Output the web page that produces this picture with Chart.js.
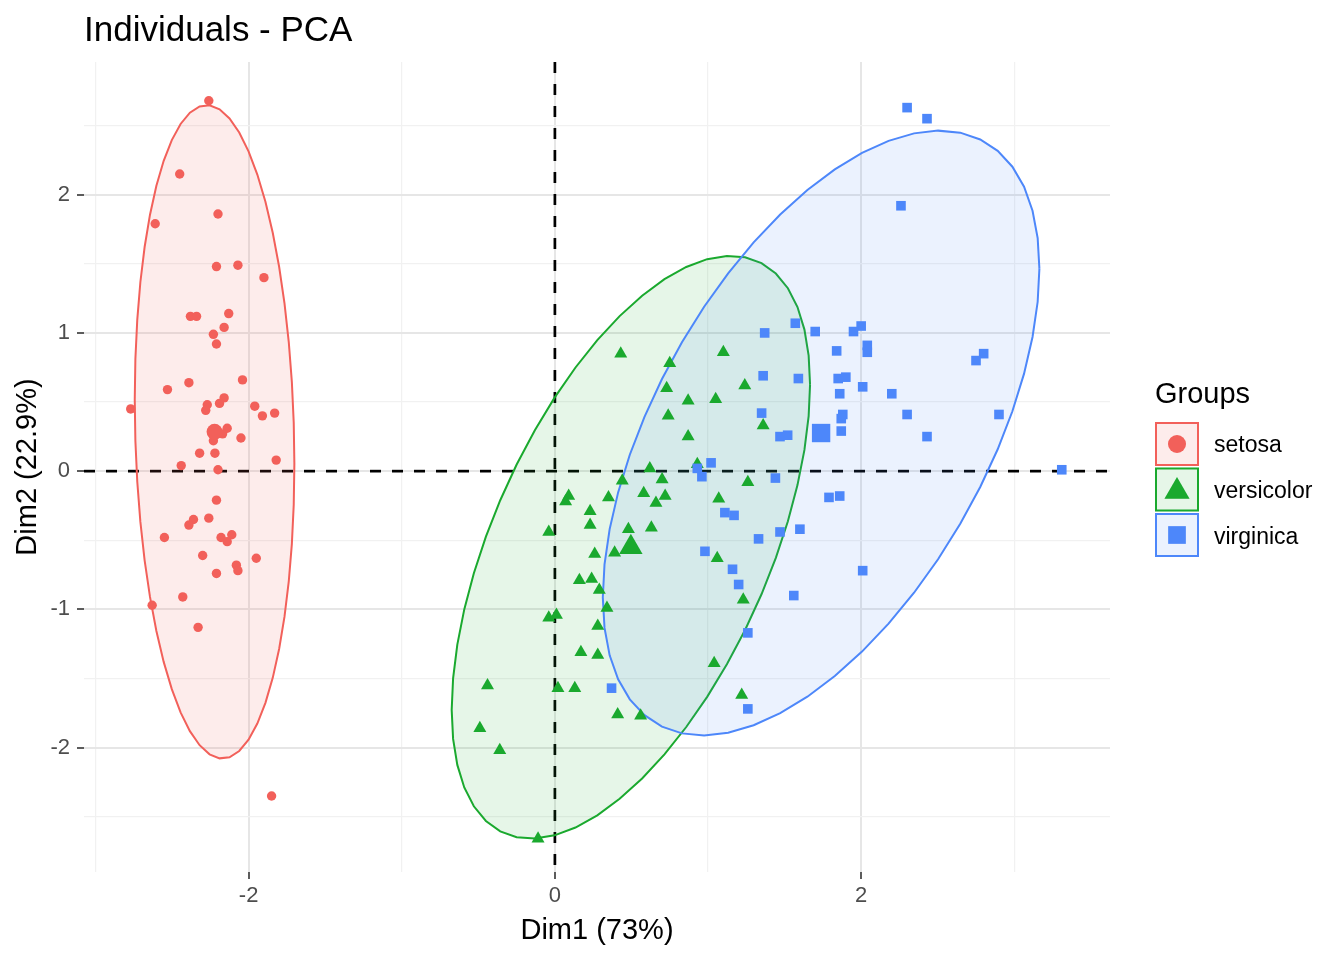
<!DOCTYPE html>
<html>
<head>
<meta charset="utf-8">
<title>Individuals - PCA</title>
<script src="https://cdn.jsdelivr.net/npm/chart.js@4.4.1/dist/chart.umd.min.js"></script>
<style>
    html, body { margin: 0; padding: 0; background: #ffffff; }
    #wrap { width: 1344px; height: 960px; position: relative; }
</style>
</head>
<body>
<div id="wrap"><canvas id="pcaChart"></canvas></div>
<script>
// Scores (Dim1 / Dim2)
const groupNames = ['setosa', 'versicolor', 'virginica'];

const setosaDim1 = [-2.26, -2.45, -2.61, -2.20, -2.21, -2.07, -1.90, -2.38, -2.34, -2.13,
    -2.16, -2.23, -2.21, -2.53, -2.39, -2.04, -2.77, -2.27, -2.28, -2.16,
    -2.19, -1.96, -1.91, -1.83, -2.14, -2.17, -2.23, -2.05, -2.32, -2.22,
    -2.44, -1.82, -2.20, -2.21, -2.36, -2.39, -2.26, -2.55, -2.18, -2.11,
    -2.14, -2.30, -1.95, -2.08, -2.07, -2.21, -2.43, -2.63, -2.33, -1.85];
const setosaDim2 = [2.68, 2.15, 1.79, 1.86, 1.48, 1.49, 1.40, 1.12, 1.12, 1.14,
    1.04, 0.99, 0.92, 0.59, 0.64, 0.66, 0.45, 0.48, 0.44, 0.53,
    0.49, 0.47, 0.40, 0.42, 0.31, 0.27, 0.22, 0.24, 0.13, 0.13,
    0.04, 0.08, 0.01, -0.21, -0.35, -0.39, -0.34, -0.48, -0.48, -0.46,
    -0.51, -0.61, -0.63, -0.68, -0.72, -0.74, -0.91, -0.97, -1.13, -2.35];

const versicolorDim1 = [0.43, 0.62, 0.44, 0.58, 0.09, 0.07, 0.35, 0.66, 0.23, 0.23,
    0.48, 0.63, -0.04, 0.26, 0.39, 0.16, 0.24, 0.29, 0.34, -0.04,
    0.01, 0.28, 0.17, 0.28, -0.44, 0.02, 0.13, 0.41, 0.56, -0.49,
    -0.36, -0.11, 1.10, 0.75, 0.73, 1.24, 0.87, 1.05, 0.74, 1.36,
    0.87, 0.93, 0.70, 1.26, 0.72, 1.07, 1.06, 1.23, 1.04, 1.22];
const versicolorDim2 = [0.85, 0.02, -0.07, -0.16, -0.18, -0.22, -0.19, -0.23, -0.29, -0.39,
    -0.42, -0.41, -0.44, -0.60, -0.59, -0.79, -0.78, -0.86, -0.99, -1.06,
    -1.04, -1.12, -1.31, -1.33, -1.55, -1.57, -1.57, -1.76, -1.77, -1.86,
    -2.02, -2.66, 0.86, 0.78, 0.60, 0.62, 0.51, 0.52, 0.40, 0.33,
    0.25, 0.05, -0.06, -0.08, -0.18, -0.20, -0.63, -0.93, -1.39, -1.62];

const virginicaDim1 = [1.37, 1.36, 1.59, 1.35, 1.47, 1.52, 1.02, 0.93, 0.96, 1.44,
    1.11, 1.17, 1.47, 1.60, 1.33, 0.98, 1.16, 1.20, 1.56, 1.26,
    1.26, 0.37, 1.57, 1.70, 2.00, 1.95, 1.84, 2.04, 2.04, 1.85,
    1.90, 2.01, 1.86, 2.20, 2.30, 1.88, 1.87, 1.87, 1.79, 1.86,
    2.30, 2.43, 2.26, 2.80, 2.75, 2.90, 2.43, 3.31, 2.01, 1.72];
const virginicaDim2 = [1.00, 0.69, 0.67, 0.42, 0.25, 0.26, 0.06, 0.02, -0.04, -0.05,
    -0.30, -0.32, -0.44, -0.42, -0.49, -0.58, -0.71, -0.82, -0.90, -1.17,
    -1.72, -1.57, 1.07, 1.01, 1.05, 1.01, 0.87, 0.91, 0.86, 0.67,
    0.68, 0.61, 0.56, 0.56, 0.41, 0.41, 0.38, 0.29, -0.19, -0.18,
    2.63, 2.55, 1.92, 0.85, 0.80, 0.41, 0.25, 0.01, -0.72, 0.27];

const xTickLabels = [-2, 0, 2];
const yTickLabels = [-2, -1, 0, 1, 2];

const groupColors = ['#F2605A', '#1AA92E', '#4D87FA'];
const groupFills = ['rgba(242, 96, 90, 0.12)', 'rgba(26, 169, 46, 0.11)', 'rgba(77, 135, 250, 0.11)'];
const pointStyles = ['circle', 'triangle', 'rect'];
const pointSizes = [4.7, 7.5, 6.8];
const meanSizes = [8, 13.5, 13];

Chart.defaults.font.family = "'Liberation Sans', Arial, Helvetica, sans-serif";
Chart.defaults.color = '#000000';

function toPoints(xs, ys) {
    return xs.map((x, i) => ({ x: x, y: ys[i] }));
}

function average(v) {
    return v.reduce((s, a) => s + a, 0) / v.length;
}

// Normal-theory 95% ellipse, same construction as ggplot's stat_ellipse(type = "norm")
function normEllipse(xs, ys, level) {
    const n = xs.length;
    const mx = average(xs), my = average(ys);
    let sxx = 0, syy = 0, sxy = 0;
    for (let i = 0; i < n; i++) {
        const dx = xs[i] - mx, dy = ys[i] - my;
        sxx += dx * dx; syy += dy * dy; sxy += dx * dy;
    }
    sxx /= (n - 1); syy /= (n - 1); sxy /= (n - 1);
    const a = Math.sqrt(sxx);
    const b = sxy / a;
    const c = Math.sqrt(syy - b * b);
    const dfd = n - 1;
    const fq = (dfd / 2) * (Math.pow(1 - level, -2 / dfd) - 1); // qf(level, 2, dfd)
    const r = Math.sqrt(2 * fq);
    const pts = [];
    for (let i = 0; i <= 50; i++) {
        const t = 2 * Math.PI * i / 50;
        const u = Math.cos(t), w = Math.sin(t);
        pts.push({ x: mx + r * u * a, y: my + r * (u * b + w * c) });
    }
    return pts;
}

const dims = [
    [setosaDim1, setosaDim2],
    [versicolorDim1, versicolorDim2],
    [virginicaDim1, virginicaDim2]
];

const datasets = [];

// ellipses (drawn first)
dims.forEach((d, g) => {
    datasets.push({
        type: 'line',
        label: groupNames[g] + ' ellipse',
        data: normEllipse(d[0], d[1], 0.95),
        borderColor: groupColors[g],
        backgroundColor: groupFills[g],
        borderWidth: 2,
        fill: 'shape',
        tension: 0,
        pointRadius: 0,
        order: 6 - g
    });
});

// individuals
dims.forEach((d, g) => {
    datasets.push({
        type: 'scatter',
        label: groupNames[g],
        data: toPoints(d[0], d[1]),
        pointStyle: pointStyles[g],
        pointRadius: pointSizes[g],
        backgroundColor: groupColors[g],
        borderWidth: 0,
        order: 3 - g
    });
});

// group centres
dims.forEach((d, g) => {
    datasets.push({
        type: 'scatter',
        label: groupNames[g] + ' mean',
        data: [{ x: average(d[0]), y: average(d[1]) }],
        pointStyle: pointStyles[g],
        pointRadius: meanSizes[g],
        backgroundColor: groupColors[g],
        borderWidth: 0,
        order: 0
    });
});

function isMajor(v, list) {
    return list.some(t => Math.abs(t - v) < 1e-9);
}

const zeroLines = {
    id: 'zeroLines',
    beforeDatasetsDraw(chart) {
        const { ctx, chartArea: a, scales } = chart;
        const px = scales.x.getPixelForValue(0);
        const py = scales.y.getPixelForValue(0);
        ctx.save();
        ctx.beginPath();
        ctx.rect(a.left, a.top, a.width, a.height);
        ctx.clip();
        ctx.strokeStyle = '#000000';
        ctx.lineWidth = 2.7;
        ctx.setLineDash([11, 11]);
        ctx.beginPath();
        ctx.moveTo(px, a.top);
        ctx.lineTo(px, a.bottom);
        ctx.stroke();
        ctx.beginPath();
        ctx.moveTo(a.left, py);
        ctx.lineTo(a.right, py);
        ctx.stroke();
        ctx.restore();
    }
};

const titleAndLegend = {
    id: 'titleAndLegend',
    afterDraw(chart) {
        const ctx = chart.ctx;
        const left = chart.chartArea.left;
        ctx.save();
        ctx.fillStyle = '#000000';
        ctx.textAlign = 'left';
        ctx.textBaseline = 'alphabetic';
        ctx.font = "35px 'Liberation Sans', Arial, sans-serif";
        ctx.fillText('Individuals - PCA', left, 41);

        // legend
        ctx.font = "29px 'Liberation Sans', Arial, sans-serif";
        ctx.fillText('Groups', 1155, 403);
        const keySizes = [9, 14.5, 12.5];
        groupNames.forEach((name, g) => {
            const top = 422 + g * 45.5;
            ctx.fillStyle = '#ffffff';
            ctx.fillRect(1155, top, 44, 44);
            ctx.fillStyle = groupFills[g];
            ctx.fillRect(1155, top, 44, 44);
            ctx.strokeStyle = groupColors[g];
            ctx.lineWidth = 2;
            ctx.setLineDash([]);
            ctx.strokeRect(1156, top + 1, 42, 42);
            Chart.helpers.drawPoint(ctx, {
                pointStyle: pointStyles[g],
                radius: keySizes[g],
                rotation: 0,
                borderWidth: 0
            }, 1177, top + 22 + (g === 1 ? 2 : 0));
            ctx.fillStyle = groupColors[g];
            ctx.fill();
            ctx.fillStyle = '#000000';
            ctx.font = "23px 'Liberation Sans', Arial, sans-serif";
            ctx.fillText(name, 1214, 452 + g * 46);
        });
        ctx.restore();
    }
};

new Chart(document.getElementById('pcaChart'), {
    type: 'scatter',
    data: { datasets: datasets },
    plugins: [zeroLines, titleAndLegend],
    options: {
        responsive: true,
        maintainAspectRatio: false,
        animation: false,
        layout: { padding: { top: 62, right: 234, left: 0, bottom: 0 } },
        plugins: {
            legend: { display: false },
            tooltip: { enabled: false }
        },
        scales: {
            x: {
                type: 'linear',
                position: 'bottom',
                min: -3.075,
                max: 3.625,
                border: { display: false },
                ticks: {
                    stepSize: 1,
                    includeBounds: false,
                    autoSkip: false,
                    maxRotation: 0,
                    padding: 4,
                    color: '#4D4D4D',
                    font: { size: 22 },
                    callback: v => isMajor(v, xTickLabels) ? String(v) : ''
                },
                grid: {
                    color: c => isMajor(c.tick.value, xTickLabels) ? '#E6E6E6' : '#F1F1F1',
                    lineWidth: c => isMajor(c.tick.value, xTickLabels) ? 2 : 1.2,
                    tickLength: 7,
                    tickColor: c => isMajor(c.tick.value, xTickLabels) ? '#333333' : 'rgba(0,0,0,0)',
                    tickWidth: 1.6
                },
                title: {
                    display: true,
                    text: 'Dim1 (73%)',
                    color: '#000000',
                    font: { size: 29 },
                    padding: { top: 0, bottom: 12 }
                },
                afterFit: s => { s.height = 88; }
            },
            y: {
                type: 'linear',
                min: -2.90,
                max: 2.96,
                border: { display: false },
                ticks: {
                    stepSize: 0.5,
                    includeBounds: false,
                    autoSkip: false,
                    padding: 7,
                    color: '#4D4D4D',
                    font: { size: 22 },
                    callback: v => isMajor(v, yTickLabels) ? String(v) : ''
                },
                grid: {
                    color: c => isMajor(c.tick.value, yTickLabels) ? '#E6E6E6' : '#F1F1F1',
                    lineWidth: c => isMajor(c.tick.value, yTickLabels) ? 2 : 1.2,
                    tickLength: 7,
                    tickColor: c => isMajor(c.tick.value, yTickLabels) ? '#333333' : 'rgba(0,0,0,0)',
                    tickWidth: 1.6
                },
                title: {
                    display: true,
                    text: 'Dim2 (22.9%)',
                    color: '#000000',
                    font: { size: 29 },
                    padding: { top: 11, bottom: 0 }
                },
                afterFit: s => { s.width = 84; }
            }
        }
    }
});
</script>
</body>
</html>
